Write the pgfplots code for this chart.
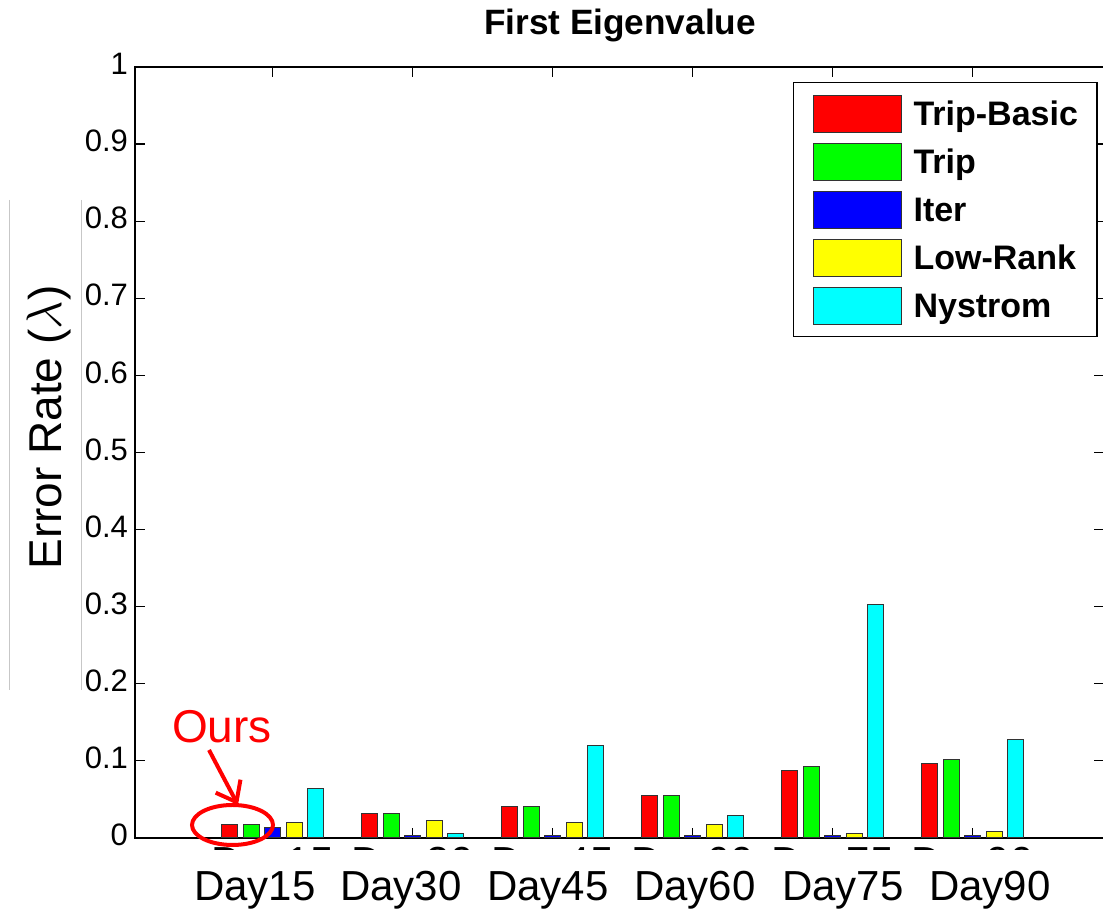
\documentclass[border=0pt]{standalone}
\usepackage{fontspec}
\setmainfont{Liberation Sans}
\usepackage{pgfplots}
\pgfplotsset{compat=1.18}
\usepackage{pgfplotstable}
\usetikzlibrary{arrows.meta}

\definecolor{mred}{RGB}{255,0,0}
\definecolor{mgreen}{RGB}{0,255,0}
\definecolor{mblue}{RGB}{0,0,255}
\definecolor{myellow}{RGB}{255,255,0}
\definecolor{mcyan}{RGB}{0,255,255}

\pgfplotstableread{
x TripBasic Trip Iter LowRank Nystrom
1 0.0172 0.0172 0.0142 0.0202 0.0640
2 0.0318 0.0318 0.0026 0.0232 0.0052
3 0.0404 0.0404 0.0026 0.0202 0.1195
4 0.0550 0.0550 0.0026 0.0172 0.0288
5 0.0872 0.0928 0.0026 0.0056 0.3030
6 0.0963 0.1019 0.0026 0.0086 0.1280
}\datatable

\begin{document}
\begin{tikzpicture}
\begin{axis}[
  ybar=2.7pt, bar width=8pt,
  scale only axis, width=484.5pt, height=385.5pt,
  xmin=0.0164, xmax=6.938, ymin=0, ymax=1,
  xtick={1,2,3,4,5,6},
  xticklabels={Day15,Day30,Day45,Day60,Day75,Day90},
  xticklabel style={font=\fontsize{21}{21}\selectfont, inner sep=0pt, anchor=north, yshift=-4.6pt},
  ytick={0,0.1,0.2,0.3,0.4,0.5,0.6,0.7,0.8,0.9,1},
  yticklabel style={font=\fontsize{15.5}{15.5}\selectfont, yshift=1.5pt},
  /pgf/number format/fixed,
  /pgf/number format/assume math mode=true,
  tick align=inside, major tick length=5pt,
  tick style={black, line width=0.6pt},
  axis line style={line width=0.8pt},
  legend image code/.code={\draw[#1,line width=0.5pt] (0pt,-9.25pt) rectangle (44pt,9.25pt);},
  legend style={at={(rel axis cs:0.679,0.9805)}, anchor=north west, draw=black, line width=0.6pt,
    inner xsep=9.5pt, inner ysep=6pt, row sep=5pt, column sep=6pt,
    font=\bfseries\fontsize{17}{17}\selectfont,
    nodes={inner sep=0pt, text depth=0pt}},
  legend cell align=left,
]
\addplot[fill=mred, draw=black!80, line width=0.5pt] table[x=x,y=TripBasic]{\datatable};
\addplot[fill=mgreen, draw=black!80, line width=0.5pt] table[x=x,y=Trip]{\datatable};
\addplot[fill=mblue, draw=black!80, line width=0.5pt] table[x=x,y=Iter]{\datatable};
\addplot[fill=myellow, draw=black!80, line width=0.5pt] table[x=x,y=LowRank]{\datatable};
\addplot[fill=mcyan, draw=black!80, line width=0.5pt] table[x=x,y=Nystrom]{\datatable};
\legend{Trip-Basic,Trip,Iter,Low-Rank,Nystrom}
\end{axis}
\begin{scope}[shift={(-67.5pt,419pt)}, x=0.5pt, y=-0.5pt]
  \fill[white] (138,850) rectangle (1110,920);
  \foreach \px/\lab in {255/Day15,401/Day30,548/Day45,695/Day60,843/Day75,990/Day90}
    \node[anchor=base, inner sep=0pt, font=\fontsize{21}{21}\selectfont] at (\px,901) {\lab};
  \node[anchor=base, inner sep=0pt, font=\bfseries\fontsize{17.6}{17.6}\selectfont] at (620,35) {First Eigenvalue};
  \node[rotate=90, anchor=base west, inner sep=0pt, font=\fontsize{23}{23}\selectfont] at (62,570) {Error Rate ($\lambda$)};
  \draw[black!22, line width=0.5pt] (9.5,200) -- (9.5,690);
  \draw[black!22, line width=0.5pt] (82,200) -- (82,690);
  \node[anchor=base, inner sep=0pt, text=mred, font=\fontsize{23}{23}\selectfont] at (222,743) {Ours};
  \draw[mred, line width=2pt, -{Straight Barb[length=9pt, width=14pt]}] (209,750) -- (238,805);
  \draw[mred, line width=2pt] (232.5,825) ellipse [x radius=20.25pt, y radius=10pt];
  \pgfresetboundingbox
  \path[use as bounding box] (0,0) rectangle (1103,913);
\end{scope}
\end{tikzpicture}
\end{document}
